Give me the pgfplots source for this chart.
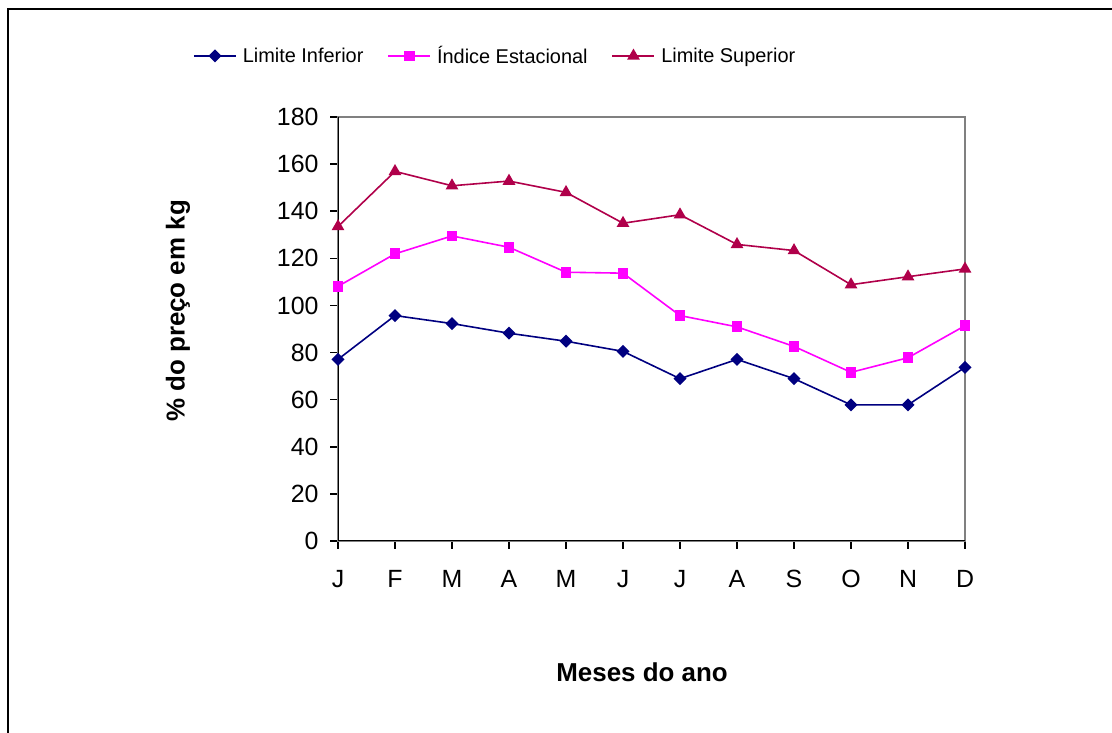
\documentclass[border=0pt]{standalone}
\usepackage{fontspec}
\setmainfont{Liberation Sans}
\usepackage{pgfplots}
\pgfplotsset{compat=1.18}
\definecolor{cinf}{HTML}{000080}
\definecolor{cind}{HTML}{FF00FF}
\definecolor{csup}{HTML}{B0004A}
\begin{document}
\begin{tikzpicture}[x=1bp,y=1bp]
\useasboundingbox (0,0) rectangle (1112,733);
\draw[line width=2bp] (8,0) -- (8,724) -- (1112,724);
\begin{axis}[
  at={(338bp,192bp)}, anchor=south west,
  scale only axis, width=627bp, height=424bp,
  xmin=0, xmax=11, ymin=0, ymax=180,
  xtick={0,...,11}, xticklabels={J,F,M,A,M,J,J,A,S,O,N,D},
  ytick={0,20,...,180},
  tick pos=left, tick align=outside, major tick length=8bp,
  tick style={black, line width=1.5bp},
  axis line style={draw=gray, line width=1.3bp},
  /pgf/number format/assume math mode=true,
  tick label style={font=\fontsize{25}{29}\selectfont},
  xticklabel style={yshift=-18bp},
  yticklabel style={xshift=-8bp},
  xlabel={Meses do ano}, ylabel={\% do preço em kg},
  label style={font=\bfseries\fontsize{26}{30}\selectfont},
  xlabel style={at={(axis description cs:0.4849,-0.309)}, anchor=center},
  ylabel style={at={(axis description cs:-0.2552,0.5425)}, anchor=center},
  legend columns=-1,
  legend style={draw=none, fill=none, at={(axis description cs:-0.2313,1.1439)}, anchor=west,
    font=\fontsize{20}{24}\selectfont, inner sep=0pt,
    /tikz/every odd column/.append style={column sep=4bp},
    /tikz/every even column/.append style={column sep=22bp}},
  legend image code/.code={\draw[mark repeat=2,mark phase=2,#1] plot coordinates {(0bp,0bp) (21bp,0bp) (42bp,0bp)};},
]
\draw[black, line width=2bp] (rel axis cs:0,1) -- (rel axis cs:0,0) -- (rel axis cs:1,0);
\addplot[cinf, line width=1.6bp, mark=square*, mark size=3.8bp, mark options={rotate=45}] coordinates {
(0,77.1) (1,95.7) (2,92.3) (3,88.2) (4,84.8) (5,80.5) (6,68.9) (7,77.1) (8,68.9) (9,57.8) (10,57.8) (11,73.7)};
\addplot[cind, line width=1.6bp, mark=square*, mark size=4.6bp] coordinates {
(0,108.1) (1,121.9) (2,129.5) (3,124.7) (4,114.1) (5,113.7) (6,95.7) (7,90.9) (8,82.6) (9,71.6) (10,77.8) (11,91.4)};
\addplot[csup, line width=1.6bp, mark=triangle*, mark size=5.8bp] coordinates {
(0,133.5) (1,156.9) (2,150.8) (3,152.8) (4,148.0) (5,134.9) (6,138.5) (7,125.9) (8,123.3) (9,108.8) (10,112.2) (11,115.5)};
\legend{Limite Inferior, Índice Estacional, Limite Superior}
\end{axis}
\end{tikzpicture}
\end{document}
